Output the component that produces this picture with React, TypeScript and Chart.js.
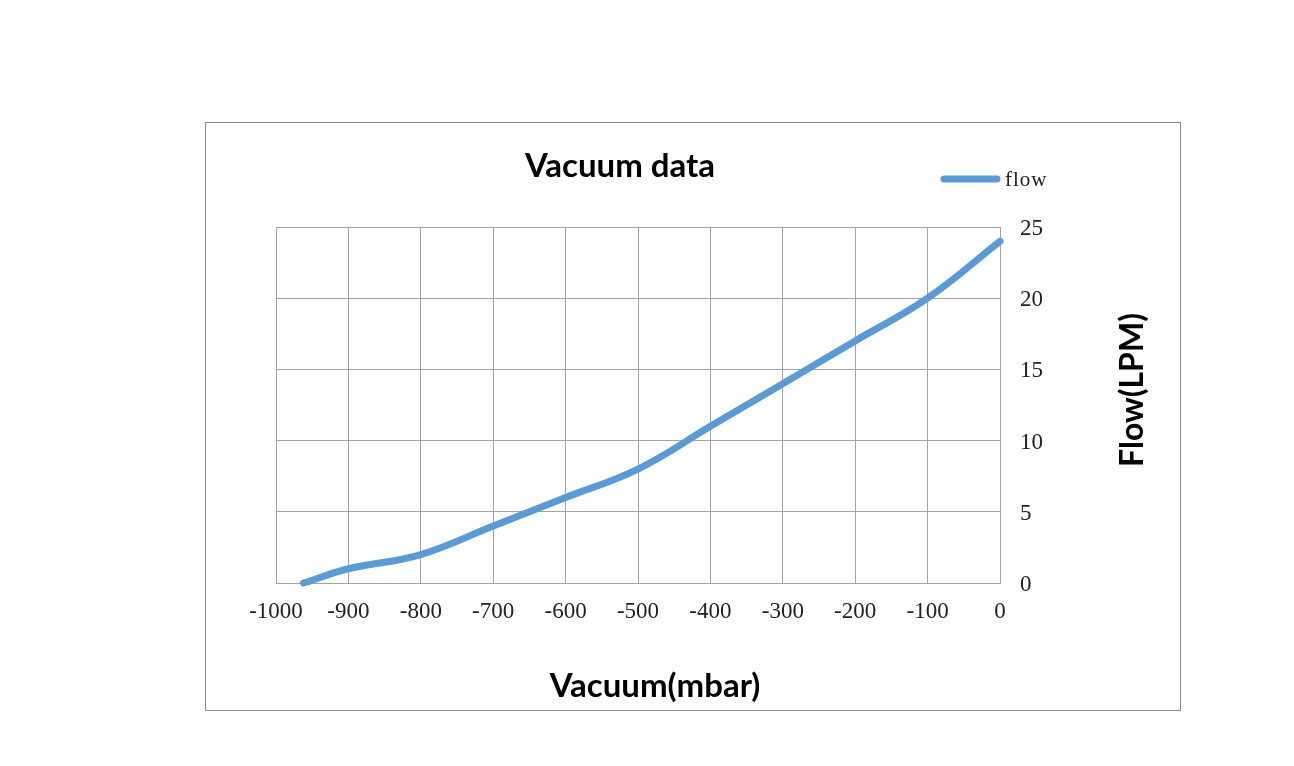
import React, { useEffect, useRef } from "react";
import { Chart, registerables } from "chart.js";

Chart.register(...registerables);

const vacuumMbar = [-962, -900, -800, -700, -600, -500, -400, -300, -200, -100, 0];
const flowLpm = [0, 1, 2, 4, 6, 8, 11, 14, 17, 20, 24];
const xTickValues = [-1000, -900, -800, -700, -600, -500, -400, -300, -200, -100, 0];
const xTickLabels = ["-1000", "-900", "-800", "-700", "-600", "-500", "-400", "-300", "-200", "-100", "0"];
const yTickValues = [0, 5, 10, 15, 20, 25];
const yTickLabels = ["0", "5", "10", "15", "20", "25"];
const seriesName = "flow";
const chartTitle = "Vacuum data";
const xTitle = "Vacuum(mbar)";
const yTitle = "Flow(LPM)";

const W = 1294;
const H = 766;
const LINE = "#5B9BD5";
const GRID = "#a3a3a3";

const decor = {
  id: "decor",
  beforeDraw(chart: any) {
    const ctx = chart.ctx;
    ctx.save();
    ctx.fillStyle = "#ffffff";
    ctx.fillRect(0, 0, W, H);
    ctx.strokeStyle = "#8c8c8c";
    ctx.lineWidth = 1;
    ctx.strokeRect(205.5, 122.5, 975, 588);
    ctx.restore();
  },
  afterDraw(chart: any) {
    const ctx = chart.ctx;
    ctx.save();
    ctx.fillStyle = "#000000";
    ctx.textAlign = "center";
    ctx.textBaseline = "middle";
    ctx.font = "bold 33px Lato, 'Noto Sans CJK SC'";
    ctx.fillText(chartTitle, 620, 166);

    ctx.font = "bold 33px Lato, 'Noto Sans CJK SC'";
    ctx.fillText(xTitle, 655, 686);

    ctx.save();
    ctx.translate(1133, 390);
    ctx.rotate(-Math.PI / 2);
    ctx.font = "bold 32px Lato, 'Noto Sans CJK SC'";
    ctx.fillText(yTitle, 0, 0);
    ctx.restore();

    // legend
    ctx.strokeStyle = LINE;
    ctx.lineWidth = 7;
    ctx.lineCap = "round";
    ctx.beginPath();
    ctx.moveTo(944, 179);
    ctx.lineTo(997, 179);
    ctx.stroke();
    ctx.fillStyle = "#222222";
    ctx.textAlign = "left";
    ctx.font = "21px 'Liberation Serif'";
    (ctx as any).letterSpacing = "1px";
    ctx.fillText(seriesName, 1005, 180);
    ctx.restore();
  },
};

export default function App() {
  const ref = useRef<HTMLCanvasElement | null>(null);

  useEffect(() => {
    if (!ref.current) return;
    const chart = new Chart(ref.current, {
      type: "line",
      data: {
        datasets: [
          {
            label: seriesName,
            data: vacuumMbar.map((x, i) => ({ x, y: flowLpm[i] })),
            borderColor: LINE,
            backgroundColor: LINE,
            borderWidth: 7,
            pointRadius: 0,
            tension: 0.4,
            borderCapStyle: "round",
            borderJoinStyle: "round",
            clip: false as any,
          },
        ],
      },
      options: {
        responsive: false,
        animation: false,
        devicePixelRatio: 1,
        layout: { padding: { left: 276, right: W - 1000 - 60, top: 227, bottom: H - 583 - 45 } },
        plugins: {
          legend: { display: false },
          title: { display: false },
          tooltip: { enabled: false },
        },
        scales: {
          x: {
            type: "linear",
            min: -1000,
            max: 0,
            afterBuildTicks: (s: any) => {
              s.ticks = xTickValues.map((v) => ({ value: v }));
            },
            afterFit: (s: any) => {
              s.height = 45;
            },
            ticks: {
              padding: 15,
              color: "#222222",
              font: { family: "'Liberation Serif'", size: 23 },
              maxRotation: 0,
              autoSkip: false,
              callback: (v: any) => xTickLabels[xTickValues.indexOf(Number(v))] ?? "",
            },
            grid: { color: GRID, lineWidth: 1, drawTicks: false },
            border: { color: GRID, width: 1 },
          },
          y: {
            position: "right",
            min: 0,
            max: 25,
            afterBuildTicks: (s: any) => {
              s.ticks = yTickValues.map((v) => ({ value: v }));
            },
            afterFit: (s: any) => {
              s.width = 60;
            },
            ticks: {
              padding: 20,
              labelOffset: 2,
              color: "#222222",
              font: { family: "'Liberation Serif'", size: 23 },
              autoSkip: false,
              callback: (v: any) => yTickLabels[yTickValues.indexOf(Number(v))] ?? "",
            },
            grid: { color: GRID, lineWidth: 1, drawTicks: false },
            border: { color: GRID, width: 1 },
          },
        },
      },
      plugins: [decor],
    });
    return () => chart.destroy();
  }, []);

  return (
    <div style={{ position: "fixed", left: 0, top: 0, width: W, height: H, background: "#fff" }}>
      <canvas ref={ref} width={W} height={H} style={{ width: W, height: H, display: "block" }} />
    </div>
  );
}
